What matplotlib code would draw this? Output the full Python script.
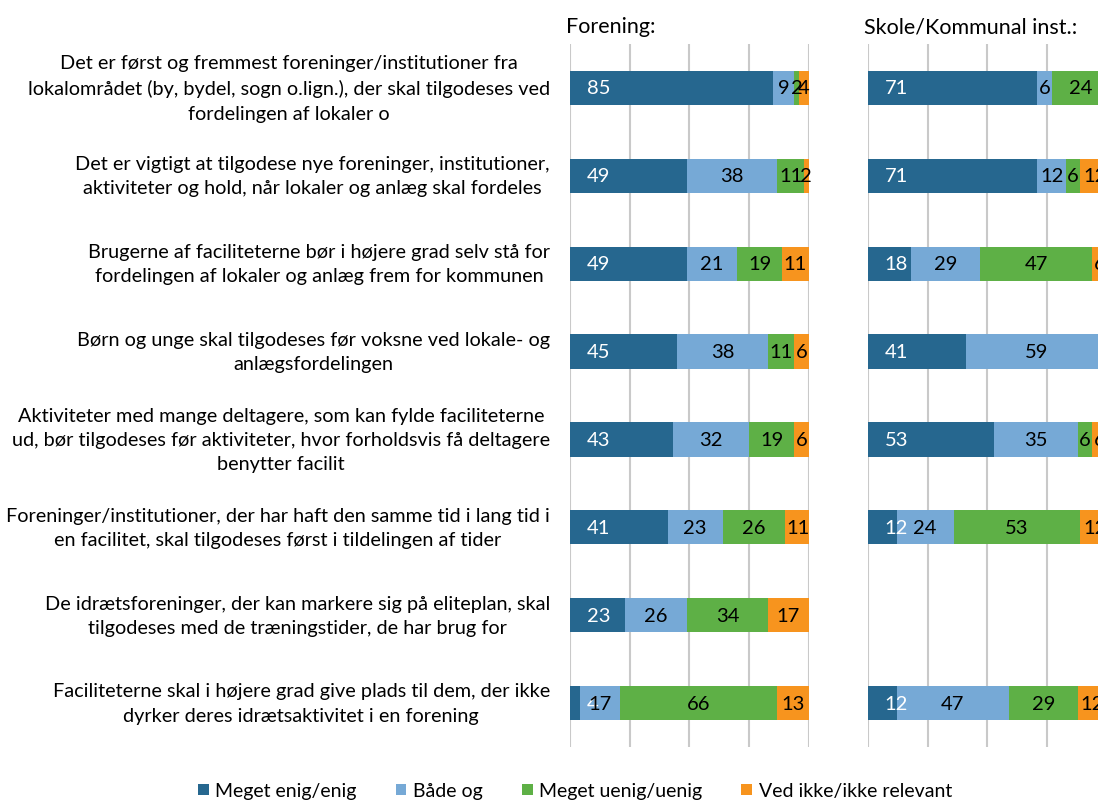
import numpy as np
import matplotlib
matplotlib.use("Agg")
import matplotlib.pyplot as plt
from matplotlib.patches import Patch

plt.rcParams.update({
    "font.family": ["Lato", "DejaVu Sans"],
    "font.size": 14,
})

# ---- data ----
categories = [
    "Det er først og fremmest foreninger/institutioner fra\n"
    "lokalområdet (by, bydel, sogn o.lign.), der skal tilgodeses ved\n"
    "fordelingen af lokaler o",
    "Det er vigtigt at tilgodese nye foreninger, institutioner,\n"
    "aktiviteter og hold, når lokaler og anlæg skal fordeles",
    "Brugerne af faciliteterne bør i højere grad selv stå for\n"
    "fordelingen af lokaler og anlæg frem for kommunen",
    "Børn og unge skal tilgodeses før voksne ved lokale- og\n"
    "anlægsfordelingen",
    "Aktiviteter med mange deltagere, som kan fylde faciliteterne\n"
    "ud, bør tilgodeses før aktiviteter, hvor forholdsvis få deltagere\n"
    "benytter facilit",
    "Foreninger/institutioner, der har haft den samme tid i lang tid i\n"
    "en facilitet, skal tilgodeses først i tildelingen af tider",
    "De idrætsforeninger, der kan markere sig på eliteplan, skal\n"
    "tilgodeses med de træningstider, de har brug for",
    "Faciliteterne skal i højere grad give plads til dem, der ikke\n"
    "dyrker deres idrætsaktivitet i en forening",
]
series = ["Meget enig/enig", "Både og", "Meget uenig/uenig",
          "Ved ikke/ikke relevant"]
colors = ["#26678F", "#76A9D6", "#5EB046", "#F7941E"]
panel_titles = ["Forening:", "Skole/Kommunal inst.:"]

forening_enig = [85, 49, 49, 45, 43, 41, 23, 4]
forening_baade = [9, 38, 21, 38, 32, 23, 26, 17]
forening_uenig = [2, 11, 19, 11, 19, 26, 34, 66]
forening_vedikke = [4, 2, 11, 6, 6, 11, 17, 13]

skole_enig = [71, 71, 18, 41, 53, 12, 0, 12]
skole_baade = [6, 12, 29, 59, 35, 24, 0, 47]
skole_uenig = [24, 6, 47, 0, 6, 53, 0, 29]
skole_vedikke = [0, 12, 6, 0, 6, 12, 0, 12]

panels = [
    [forening_enig, forening_baade, forening_uenig, forening_vedikke],
    [skole_enig, skole_baade, skole_uenig, skole_vedikke],
]

# ---- figure ----
W, H = 1098, 803
fig = plt.figure(figsize=(W / 100, H / 100), dpi=100)
top_px, bot_px = 45, 748
ax_w = 238.5
lefts = [570, 868]

y = np.arange(len(categories))
axes = []
for k, (left, data) in enumerate(zip(lefts, panels)):
    ax = fig.add_axes([left / W, 1 - bot_px / H, ax_w / W,
                       (bot_px - top_px) / H])
    axes.append(ax)
    base = np.zeros(len(categories))
    for s, (vals, col) in enumerate(zip(data, colors)):
        vals = np.asarray(vals, dtype=float)
        ax.barh(y, vals, left=base, height=0.39, color=col, zorder=3,
                linewidth=0)
        for i, v in enumerate(vals):
            if v <= 0:
                continue
            if s == 0:
                ax.text(base[i] + 7, i, f"{v:.0f}", ha="left", va="center",
                        color="white", fontsize=14.5, zorder=4)
            else:
                ax.text(base[i] + v / 2, i, f"{v:.0f}", ha="center",
                        va="center", color="black", fontsize=14.5, zorder=4)
        base += vals
    ax.set_xlim(0, 100)
    ax.set_ylim(len(categories) - 0.5, -0.5)
    ax.set_xticks([0, 25, 50, 75, 100])
    ax.xaxis.grid(True, color="#C9C9C9", linewidth=1.5, zorder=0)
    ax.set_axisbelow(True)
    ax.tick_params(length=0, labelbottom=False, labelleft=False)
    for sp in ax.spines.values():
        sp.set_visible(False)
    fig.text((left - 4) / W, 1 - 27 / H, panel_titles[k], ha="left",
             va="center", fontsize=15.5)

# category labels
for i, lab in enumerate(categories):
    axes[0].text(-8.4, i, lab, ha="right", va="center",
                 multialignment="center", fontsize=14.3, linespacing=1.52,
                 clip_on=False)

handles = [Patch(facecolor=c, edgecolor="none") for c in colors]
fig.legend(handles, series, loc="center", bbox_to_anchor=(575 / W, 1 - 792 / H),
           ncol=4, frameon=False, fontsize=14, handlelength=0.55,
           handleheight=0.55, handletextpad=0.35, columnspacing=2.0,
           borderaxespad=0, borderpad=0)

fig.savefig("out.png", dpi=100)
plt.close(fig)
